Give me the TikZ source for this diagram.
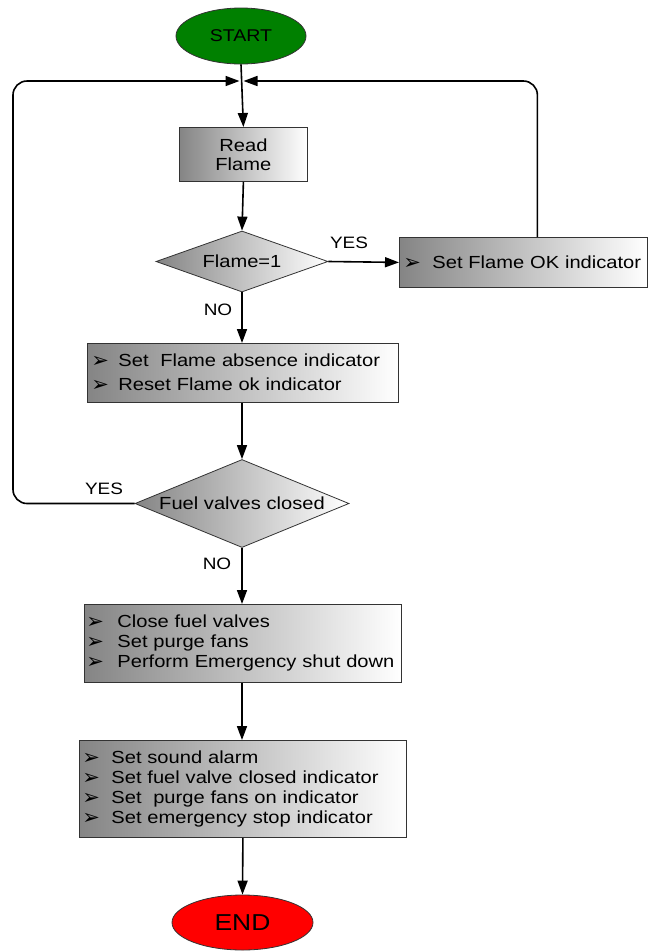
\documentclass[tikz,border=0pt]{standalone}
\usepackage{fontspec}
\setmainfont[FakeStretch=1.15]{Liberation Sans}
\newfontfamily\arrowglyph{DejaVu Sans}
\usetikzlibrary{shapes.geometric,arrows.meta}
\definecolor{startgreen}{HTML}{008000}
\definecolor{endred}{HTML}{FF0000}
\definecolor{edgegray}{HTML}{333333}
% one bullet line: arrowhead glyph in a fixed-width slot, then the text
\newcommand\flitem[2]{\makebox[#1][l]{\arrowglyph\fontsize{21}{13}\selectfont\raisebox{-1pt}{➢}}#2}
\tikzset{
  conn/.style={line width=1.6pt, draw=black},
  arr/.style={conn, -{Triangle[length=14pt,width=10pt]}},
  procbox/.style={rectangle, draw=edgegray, line width=0.8pt,
    left color=black!48, right color=white, inner ysep=0pt,
    font=\fontsize{17.5}{20}\selectfont},
  decision/.style={diamond, aspect=2.4, inner sep=0pt, draw=edgegray,
    line width=0.8pt, left color=black!48, right color=white,
    font=\fontsize{17.5}{20}\selectfont},
  terminal/.style={ellipse, draw=edgegray, line width=0.8pt, inner sep=0pt},
  lbl/.style={font=\fontsize{16.5}{16.5}\selectfont, inner sep=0pt},
}
\begin{document}
\begin{tikzpicture}[x=1pt,y=-1pt]
\fill[white] (0,0) rectangle (648,951);
\useasboundingbox (0,0) rectangle (648,951);

% terminals
\node[terminal, fill=startgreen, minimum width=130pt, minimum height=56pt,
      font=\fontsize{17}{17}\selectfont] (start) at (241,36) {START};
\node[terminal, fill=endred, minimum width=141pt, minimum height=55pt,
      font=\fontsize{23}{23}\selectfont] (end) at (242.5,922.5) {END};

% process boxes
\node[procbox, anchor=north west, minimum width=128pt, minimum height=54pt,
      align=center, font=\fontsize{17.5}{19}\selectfont] (read) at (179,127) {Read\\Flame};
\node[procbox, anchor=north west, minimum width=248pt, minimum height=50pt,
      inner xsep=4pt, text width=240pt, align=left] (ok) at (399,237)
      {\flitem{29pt}{Set Flame OK indicator}};
\node[procbox, anchor=north west, minimum width=311pt, minimum height=59pt,
      inner xsep=4pt, text width=303pt, align=left] (absent) at (87,343)
      {\flitem{27pt}{Set\ \ Flame absence indicator}\\[4pt]
       \flitem{27pt}{Reset Flame ok indicator}};
\node[procbox, anchor=north west, minimum width=317pt, minimum height=78pt,
      inner xsep=2pt, text width=313pt, align=left] (shut) at (84,604)
      {\flitem{31pt}{Close fuel valves}\\
       \flitem{31pt}{Set purge fans}\\
       \flitem{31pt}{Perform Emergency shut down}};
\node[procbox, anchor=north west, minimum width=327pt, minimum height=97pt,
      inner xsep=3pt, text width=321pt, align=left] (alarm) at (79,740)
      {\flitem{29pt}{Set sound alarm}\\
       \flitem{29pt}{Set fuel valve closed indicator}\\
       \flitem{29pt}{Set\ \ purge fans on indicator}\\
       \flitem{29pt}{Set emergency stop indicator}};

% decisions
\node[decision, minimum width=172pt, minimum height=61pt] (flame) at (242,261.5) {Flame=1};
\node[decision, minimum width=214pt, minimum height=88pt] (valves) at (242,503.5) {Fuel valves closed};

% loop-back junction above the read step
\coordinate (mergeL) at (239.5,81);
\coordinate (mergeR) at (243.5,81);
\coordinate (loopL) at (13,81);

% main flow
\draw[arr] (start.south) -- (read.north);
\draw[arr] (read.south) -- (flame.north);
\draw[arr] (flame.east) -- (ok.west);
\draw[arr] (flame.south) -- (absent.north -| flame.south);
\draw[arr] (absent.south -| valves.north) -- (valves.north);
\draw[arr] (valves.south) -- (shut.north -| valves.south);
\draw[arr] (shut.south -| valves.south) -- (alarm.north -| valves.south);
\draw[arr] (alarm.south) -- (end.north);

% return paths
\draw[arr, rounded corners=14pt] ([xshift=14pt]ok.north) |- (mergeR);
\draw[arr, rounded corners=14pt] (valves.west) -| (loopL) -- (mergeL);

% branch labels
\node[lbl] (yes1) at (349,243) {YES};
\node[lbl] (no1) at (218,310) {NO};
\node[lbl] (yes2) at (104,489) {YES};
\node[lbl] (no2) at (217,564) {NO};
\end{tikzpicture}
\end{document}
